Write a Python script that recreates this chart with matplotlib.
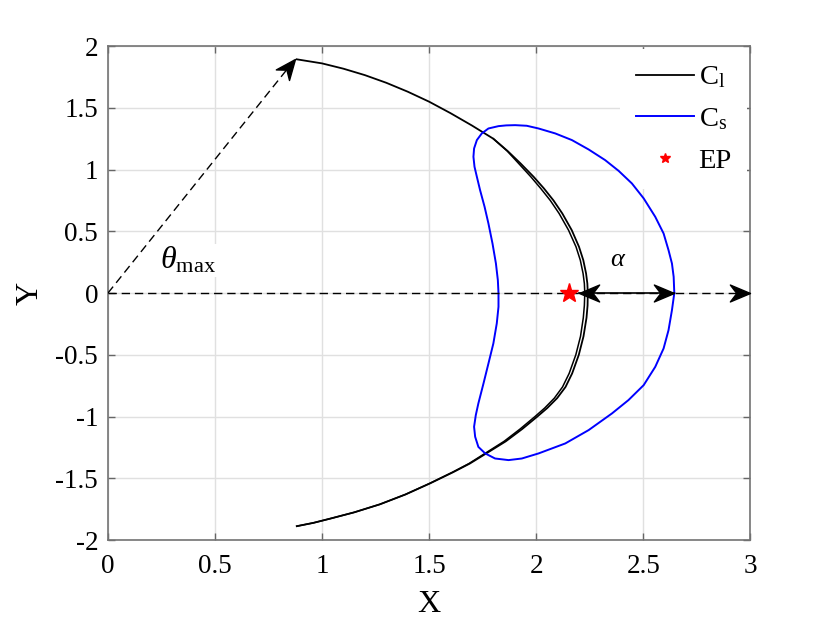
import matplotlib
matplotlib.use("Agg")
import matplotlib.pyplot as plt
import numpy as np
from matplotlib.path import Path
from matplotlib.markers import MarkerStyle
from matplotlib.transforms import Affine2D

plt.rcParams['font.family'] = ['Liberation Serif', 'DejaVu Serif']
plt.rcParams['mathtext.fontset'] = 'custom'
plt.rcParams['mathtext.rm'] = 'Liberation Serif'
plt.rcParams['mathtext.it'] = 'Liberation Serif:italic'
plt.rcParams['axes.unicode_minus'] = False

cl_x = [0.882, 1.000, 1.100, 1.200, 1.300, 1.400, 1.500, 1.600, 1.700, 1.800, 1.867,
        1.927, 1.988, 2.036, 2.081, 2.122, 2.166, 2.200, 2.220, 2.233, 2.239, 2.241,
        2.240, 2.235, 2.221, 2.199, 2.168, 2.137, 2.098, 2.052, 2.005, 1.935, 1.858,
        1.765, 1.690, 1.612, 1.505, 1.390, 1.270, 1.150, 1.040, 0.960, 0.882]
cl_y = [1.893, 1.860, 1.817, 1.765, 1.703, 1.631, 1.550, 1.457, 1.357, 1.250, 1.150,
        1.050, 0.942, 0.848, 0.750, 0.645, 0.510, 0.375, 0.267, 0.159, 0.078, 0.0,
        -0.100, -0.200, -0.350, -0.500, -0.650, -0.760, -0.850, -0.930, -1.000, -1.100, -1.200,
        -1.300, -1.380, -1.450, -1.540, -1.630, -1.710, -1.775, -1.825, -1.860, -1.887]

# inner trace of C_l (second revolution), joins the outer one near the ends
cl2_x = [1.800, 1.865, 1.918, 1.975, 2.021, 2.066, 2.107, 2.151, 2.186, 2.206, 2.219,
         2.225, 2.227, 2.225, 2.220, 2.207, 2.185, 2.154, 2.123, 2.085, 2.040, 1.994,
         1.925, 1.850, 1.759, 1.686, 1.609, 1.503, 1.389, 1.270, 1.150, 1.040, 0.960, 0.882]
cl2_y = [1.250, 1.150, 1.050, 0.942, 0.848, 0.750, 0.645, 0.510, 0.375, 0.267, 0.159,
         0.078, 0.0, -0.100, -0.200, -0.350, -0.500, -0.650, -0.760, -0.850, -0.930, -1.000,
         -1.100, -1.200, -1.300, -1.380, -1.450, -1.540, -1.630, -1.710, -1.775, -1.825, -1.860, -1.887]

# small closed orbit C_s, anticlockwise from the right-hand crossing
cs_x = [2.645, 2.642, 2.634, 2.618, 2.595, 2.556, 2.502, 2.447, 2.385, 2.322, 2.245,
        2.167, 2.089, 2.011, 1.956, 1.902, 1.860, 1.824, 1.777, 1.746, 1.723, 1.710,
        1.707, 1.712, 1.723, 1.738, 1.759, 1.777, 1.796, 1.812, 1.821, 1.824,
        1.824, 1.816, 1.800, 1.777, 1.754, 1.730, 1.718, 1.710, 1.715, 1.730, 1.762,
        1.808, 1.871, 1.933, 2.011, 2.136, 2.245, 2.354, 2.431, 2.502, 2.556, 2.595,
        2.618, 2.634, 2.645]
cs_y = [0.0, 0.132, 0.240, 0.348, 0.483, 0.618, 0.767, 0.888, 0.990, 1.077, 1.163,
        1.239, 1.293, 1.333, 1.355, 1.360, 1.358, 1.352, 1.333, 1.293, 1.239, 1.171,
        1.104, 1.023, 0.942, 0.834, 0.699, 0.564, 0.402, 0.240, 0.105, 0.0,
        -0.111, -0.245, -0.408, -0.570, -0.731, -0.893, -0.988, -1.082, -1.163, -1.245, -1.298,
        -1.339, -1.352, -1.339, -1.298, -1.217, -1.109, -0.974, -0.866, -0.745, -0.597, -0.448,
        -0.300, -0.138, 0.0]

ep = (2.155, 0.0)
theta_tip = (0.875, 1.895)
axis_end = 3.0
alpha_span = (2.20, 2.645)

fig = plt.figure(figsize=(8.3, 6.23), dpi=100)
ax = fig.add_axes([0.130, 0.133, 0.774, 0.793])
ax.set_xlim(0, 3)
ax.set_ylim(-2, 2)
ax.set_xticks([0, 0.5, 1, 1.5, 2, 2.5, 3])
ax.set_xticklabels(['0', '0.5', '1', '1.5', '2', '2.5', '3'])
ax.set_yticks([-2, -1.5, -1, -0.5, 0, 0.5, 1, 1.5, 2])
ax.set_yticklabels(['-2', '-1.5', '-1', '-0.5', '0', '0.5', '1', '1.5', '2'])
ax.grid(True, color='0.88', linewidth=1.0)
ax.set_axisbelow(True)
ax.tick_params(direction='in', length=5, width=1, color='0.4', labelsize=19.5,
               top=True, right=True, pad=7)
ax.tick_params(axis='x', pad=10)
for s in ax.spines.values():
    s.set_color('0.45')
    s.set_linewidth(1.2)

ax.plot(cl_x, cl_y, color='black', lw=1.3, label=r'C$_{\rm l}$', zorder=3)
ax.plot(cl2_x, cl2_y, color='black', lw=1.1, zorder=3)
ax.plot(cs_x, cs_y, color='blue', lw=1.4, label=r'C$_{\rm s}$', zorder=3)

# dashed guide lines
ax.plot([0, theta_tip[0]], [0, theta_tip[1]], color='black', lw=1.0, dashes=(6, 3.5), zorder=4)
ax.plot([0, axis_end], [0, 0], color='black', lw=1.0, dashes=(6, 3.5), zorder=4, clip_on=False)
ax.plot(list(alpha_span), [0, 0], color='black', lw=1.2, zorder=5)

# arrow heads (matlab vback2 look)
head = Path([(0, 0), (-1, 0.42), (-0.68, 0), (-1, -0.42), (0, 0)],
            [Path.MOVETO, Path.LINETO, Path.LINETO, Path.LINETO, Path.CLOSEPOLY])


def draw_head(x, y, x0, y0):
    p1 = ax.transData.transform((x0, y0))
    p2 = ax.transData.transform((x, y))
    ang = np.degrees(np.arctan2(p2[1] - p1[1], p2[0] - p1[0]))
    m = MarkerStyle(head, transform=Affine2D().rotate_deg(ang))
    ax.plot([x], [y], marker=m, markersize=29, color='black', lw=0, zorder=6, clip_on=False)


draw_head(theta_tip[0], theta_tip[1], 0, 0)
draw_head(axis_end, 0, 0, 0)
draw_head(alpha_span[1], 0, alpha_span[0], 0)
draw_head(alpha_span[0], 0, alpha_span[1], 0)

ax.plot([ep[0]], [ep[1]], marker='*', color='red', markersize=14, lw=0, label='EP', zorder=5)

ax.text(0.243, 0.20, r'$\theta_{\rm max}$', fontsize=23, zorder=4,
        bbox=dict(facecolor='white', edgecolor='none', pad=1))
ax.text(2.383, 0.22, r'$\alpha$', fontsize=19, ha='center')

ax.set_xlabel('X', fontsize=23, labelpad=8)
ax.set_ylabel('Y', fontsize=23, labelpad=8, rotation=90)

leg = ax.legend(loc='upper right', bbox_to_anchor=(1.0, 1.0), fontsize=20.5, frameon=True,
                fancybox=False, edgecolor='none', facecolor='white', framealpha=1,
                handlelength=2.05, handletextpad=0.15, labelspacing=0.55, borderaxespad=0.1,
                borderpad=0.55, markerscale=0.55)
leg.set_zorder(2)  # white box hides the grid but not the curves

fig.savefig('out.png', dpi=100, facecolor='white')
